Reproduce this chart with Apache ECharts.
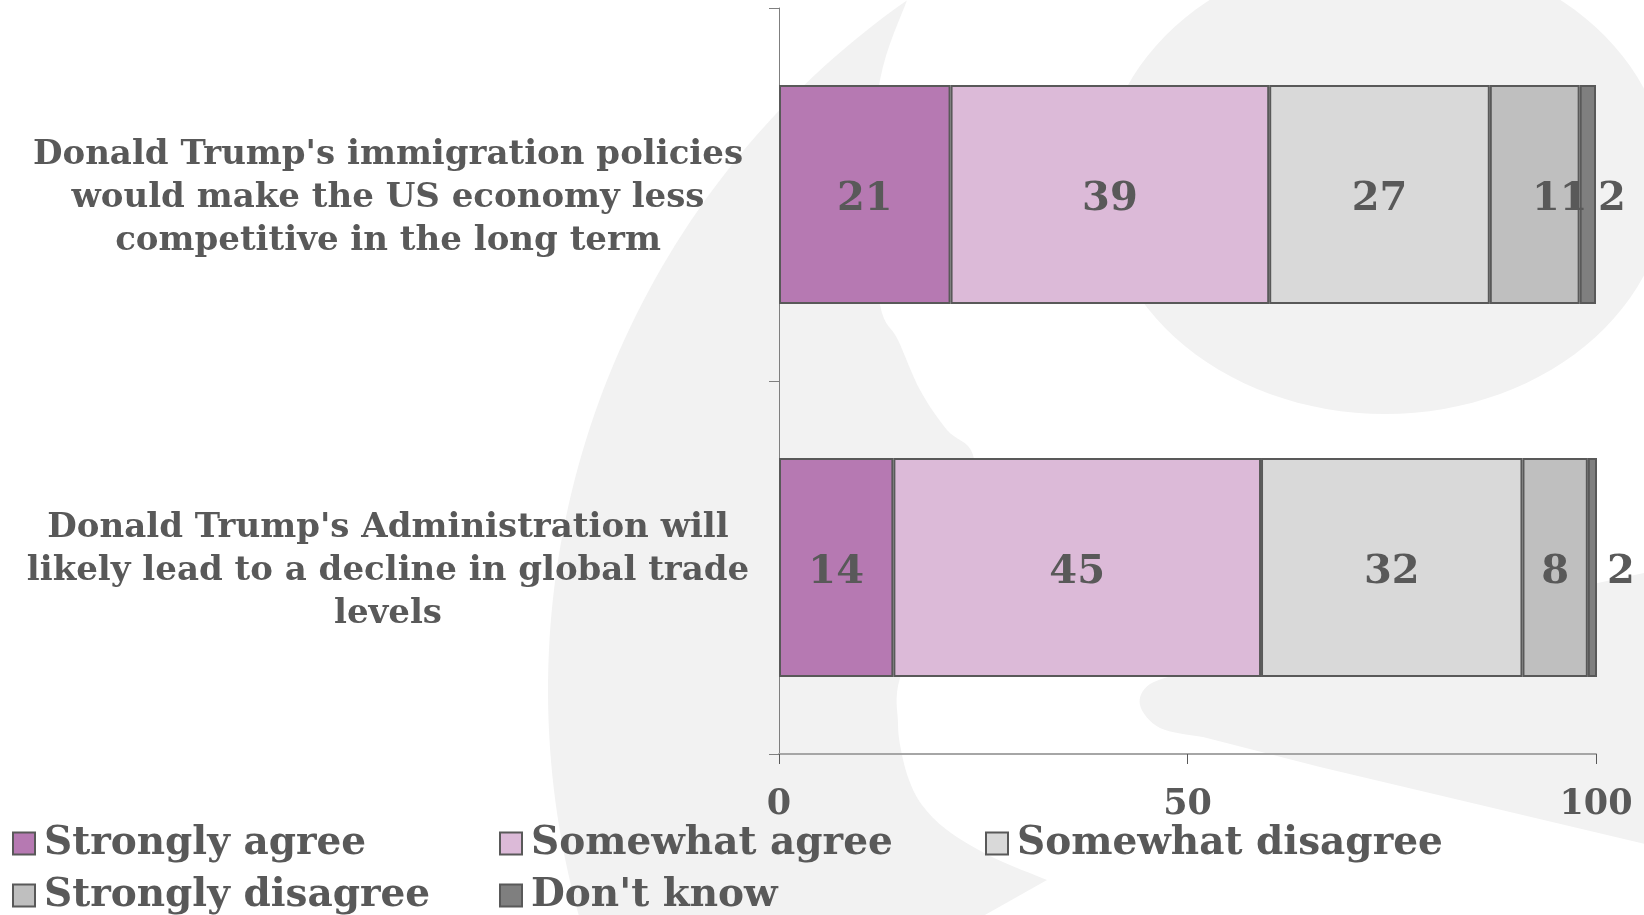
<!DOCTYPE html>
<html>
<head>
<meta charset="utf-8">
<script src="https://cdn.jsdelivr.net/npm/echarts@6/dist/echarts.min.js"></script>
<style>
  html, body { margin: 0; padding: 0; background: #ffffff; }
  #chart { width: 1644px; height: 915px; }
</style>
</head>
<body>
<div id="chart"></div>
<script>
// Survey statements (one bar each) and answer shares, in percent
const categories = [
  "Donald Trump's immigration policies\nwould make the US economy less\ncompetitive in the long term",
  "Donald Trump's Administration will\nlikely lead to a decline in global trade\nlevels"
];
const answerNames = ['Strongly agree', 'Somewhat agree', 'Somewhat disagree', 'Strongly disagree', "Don't know"];
const stronglyAgree = [21, 14];
const somewhatAgree = [39, 45];
const somewhatDisagree = [27, 32];
const stronglyDisagree = [11, 8];
const dontKnow = [2, 2];
const xTicks = [0, 50, 100];

const FONT = 'DejaVu Serif';
const TEXT = '#595959';
const palette = ['#b679b2', '#dcbad8', '#d9d9d9', '#bfbfbf', '#7f7f7f'];
const answerValues = [stronglyAgree, somewhatAgree, somewhatDisagree, stronglyDisagree, dontKnow];

// label nudges: a slight downward shift for all, plus sideways moves on thin segments
const LABEL_DROP = 5;
const labelNudge = { 3: [[25, 0], null], 4: [null, [8, 0]] };

// ---- decorative background emblem (light grey shapes) ----
function arcPts(cx, cy, r, from, to, n) {
  let a0 = Math.atan2(from[1] - cy, from[0] - cx);
  let a1 = Math.atan2(to[1] - cy, to[0] - cx);
  if (a0 < 0) a0 += 2 * Math.PI;
  if (a1 < 0) a1 += 2 * Math.PI;
  const pts = [];
  for (let i = 0; i <= n; i++) {
    const a = a0 + (a1 - a0) * i / n;
    pts.push([cx + r * Math.cos(a), cy + r * Math.sin(a)]);
  }
  return pts;
}
function smoothPts(p, steps) {
  const out = [];
  for (let i = 0; i < p.length - 1; i++) {
    const p0 = p[Math.max(0, i - 1)], p1 = p[i], p2 = p[i + 1], p3 = p[Math.min(p.length - 1, i + 2)];
    const c1 = [p1[0] + (p2[0] - p0[0]) / 6, p1[1] + (p2[1] - p0[1]) / 6];
    const c2 = [p2[0] - (p3[0] - p1[0]) / 6, p2[1] - (p3[1] - p1[1]) / 6];
    for (let s = 0; s < steps; s++) {
      const t = s / steps, u = 1 - t;
      out.push([
        u * u * u * p1[0] + 3 * u * u * t * c1[0] + 3 * u * t * t * c2[0] + t * t * t * p2[0],
        u * u * u * p1[1] + 3 * u * u * t * c1[1] + 3 * u * t * t * c2[1] + t * t * t * p2[1]
      ]);
    }
  }
  out.push(p[p.length - 1]);
  return out;
}
function ellipsePts(cx, cy, rx, ry, n) {
  const pts = [];
  for (let i = 0; i < n; i++) {
    const a = 2 * Math.PI * i / n;
    pts.push([cx + rx * Math.cos(a), cy + ry * Math.sin(a)]);
  }
  return pts;
}

const crescentOuter = arcPts(1390, 690, 842, [907, 0], [592, 960], 80);
const crescentInner = smoothPts([
  [1047, 880], [990, 856], [947, 830], [922, 805], [909, 780], [901, 750], [898, 723],
  [900, 678], [935, 600], [975, 520], [973, 455], [947, 430], [920, 390], [898, 340],
  [880, 305], [870, 200], [880, 80], [907, 0]
], 8);
const crescent = crescentOuter.concat([[905, 960]], crescentInner);
const head = ellipsePts(1385, 182, 283, 232, 120);
const tailTip = smoothPts([[1190, 671], [1150, 684], [1140, 705], [1160, 728], [1203, 737]], 8);
const tail = [[1700, 561]].concat(tailTip, [[1320, 767], [1700, 857]]);

const bgStyle = { fill: '#f2f2f2' };
const background = [crescent, head, tail].map(pts => ({
  type: 'polygon', z: -10, silent: true, shape: { points: pts }, style: bgStyle
}));

const series = answerValues.map((vals, s) => ({
  name: answerNames[s],
  type: 'bar',
  stack: 'total',
  barWidth: 219,
  itemStyle: { color: palette[s], borderColor: '#595959', borderWidth: 2 },
  label: {
    show: true,
    position: s === 4 ? 'right' : 'inside',
    distance: 2,
    color: TEXT,
    fontFamily: FONT,
    fontWeight: 'bold',
    fontSize: 40
  },
  data: vals.map((v, i) => {
    const side = (labelNudge[s] && labelNudge[s][i]) || [0, 0];
    return { value: v, label: { offset: [side[0], side[1] + LABEL_DROP] } };
  })
}));

// legend laid out as a 3-column grid: one single-item legend per cell
const legendCells = [
  { name: 'Strongly agree', left: 12, row: 0 },
  { name: 'Somewhat agree', left: 499, row: 0 },
  { name: 'Somewhat disagree', left: 985, row: 0 },
  { name: 'Strongly disagree', left: 12, row: 1 },
  { name: "Don't know", left: 499, row: 1 }
];
const legends = legendCells.map(c => ({
  data: [c.name],
  orient: 'horizontal',
  left: c.left,
  top: 824 + c.row * 52,
  padding: 0,
  itemWidth: 22,
  itemHeight: 22,
  icon: 'rect',
  itemStyle: { borderColor: '#595959', borderWidth: 2 },
  textStyle: { color: TEXT, fontFamily: FONT, fontWeight: 'bold', fontSize: 39, padding: [0, 0, 0, 4] },
  selectedMode: false
}));

const catText = { align: 'center', color: TEXT, fontFamily: FONT, fontWeight: 'bold', fontSize: 34, lineHeight: 43 };

const chart = echarts.init(document.getElementById('chart'), null, { renderer: 'canvas' });
chart.setOption({
  backgroundColor: '#ffffff',
  animation: false,
  graphic: { elements: background },
  legend: legends,
  grid: { left: 779, right: 48, top: 8, bottom: 161, containLabel: false, outerBoundsMode: 'none' },
  xAxis: {
    type: 'value',
    min: xTicks[0],
    max: xTicks[xTicks.length - 1],
    interval: xTicks[1] - xTicks[0],
    axisLine: { show: true, lineStyle: { color: '#a6a6a6', width: 2 } },
    axisTick: { show: true, length: 10, lineStyle: { color: '#595959', width: 1 } },
    splitLine: { show: false },
    axisLabel: { color: TEXT, fontFamily: FONT, fontWeight: 'bold', fontSize: 35, margin: 33 }
  },
  yAxis: {
    type: 'category',
    inverse: true,
    data: categories,
    axisLine: { show: true, lineStyle: { color: '#7f7f7f', width: 1 } },
    axisTick: { show: true, length: 10, alignWithLabel: false, lineStyle: { color: '#7f7f7f', width: 1 } },
    splitLine: { show: false },
    axisLabel: {
      interval: 0,
      align: 'center',
      margin: 391,
      formatter: v => '{s| }\n{t|' + v + '}',
      rich: {
        s: { align: 'center', fontSize: 2, lineHeight: 7 },
        t: catText
      },
      color: TEXT,
      fontFamily: FONT,
      fontWeight: 'bold',
      fontSize: 34,
      lineHeight: 43
    }
  },
  series: series
});
</script>
</body>
</html>
